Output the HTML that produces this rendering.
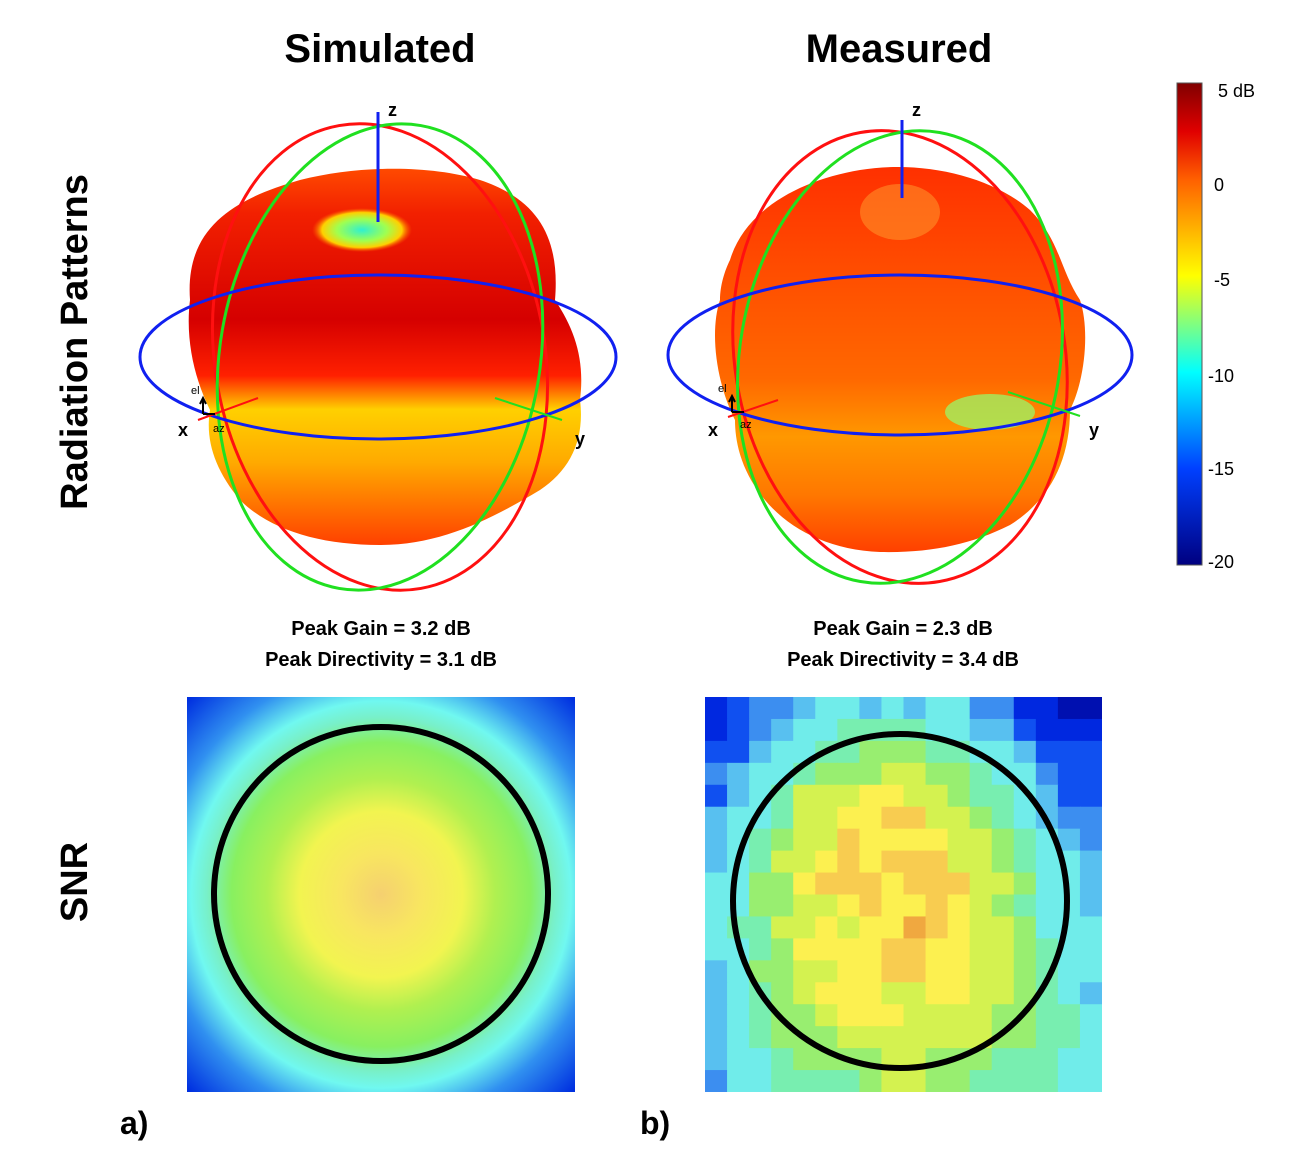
<!DOCTYPE html>
<html><head><meta charset="utf-8"><style>
body{margin:0;background:#fff;width:1308px;height:1168px;overflow:hidden;font-family:"Liberation Sans",sans-serif}
svg{position:absolute;left:0;top:0}
</style></head><body>
<svg width="1308" height="1168" viewBox="0 0 1308 1168">
<defs>
<linearGradient id="cbar" x1="0" y1="0" x2="0" y2="1">
<stop offset="0" stop-color="#800000"/><stop offset="0.1" stop-color="#e00000"/><stop offset="0.2" stop-color="#ff6000"/>
<stop offset="0.4" stop-color="#ffff00"/><stop offset="0.5" stop-color="#80ff80"/><stop offset="0.6" stop-color="#00ffff"/>
<stop offset="0.8" stop-color="#0040ff"/><stop offset="1" stop-color="#000080"/></linearGradient>
<linearGradient id="simblob" x1="0" y1="0" x2="0" y2="1">
<stop offset="0" stop-color="#ff4a00"/><stop offset="0.12" stop-color="#f22000"/><stop offset="0.4" stop-color="#d50000"/>
<stop offset="0.55" stop-color="#ff2000"/><stop offset="0.64" stop-color="#ffd000"/><stop offset="0.78" stop-color="#ffaa00"/>
<stop offset="1" stop-color="#ff4000"/></linearGradient>
<linearGradient id="measblob" x1="0" y1="0" x2="0" y2="1">
<stop offset="0" stop-color="#ff3000"/><stop offset="0.3" stop-color="#ff5000"/><stop offset="0.55" stop-color="#ff6800"/>
<stop offset="0.7" stop-color="#ff9800"/><stop offset="0.85" stop-color="#ff7800"/><stop offset="1" stop-color="#ff4000"/></linearGradient>
<radialGradient id="topsim" cx="0.5" cy="0.5" r="0.5"><stop offset="0" stop-color="#30f0d0"/><stop offset="0.5" stop-color="#a0ff50"/><stop offset="0.8" stop-color="#ffd000"/><stop offset="1" stop-color="#ff6000" stop-opacity="0"/></radialGradient>
<radialGradient id="simsnr" cx="0.5" cy="0.5" r="0.7">
<stop offset="0" stop-color="#f5d070"/><stop offset="0.15" stop-color="#f8e660"/><stop offset="0.3" stop-color="#f2f450"/>
<stop offset="0.42" stop-color="#b0f050"/><stop offset="0.55" stop-color="#88f060"/><stop offset="0.64" stop-color="#78f0c8"/><stop offset="0.7" stop-color="#70f8f0"/>
<stop offset="0.82" stop-color="#3090f0"/><stop offset="1" stop-color="#0030e0"/></radialGradient>
<clipPath id="mclip"><rect x="705" y="697" width="397" height="395"/></clipPath>
</defs>

<text x="380" y="62" text-anchor="middle" font-size="40" font-weight="bold">Simulated</text>
<text x="899" y="62" text-anchor="middle" font-size="40" font-weight="bold">Measured</text>
<text transform="translate(87,342) rotate(-90)" text-anchor="middle" font-size="38" font-weight="bold">Radiation Patterns</text>
<text transform="translate(87,882) rotate(-90)" text-anchor="middle" font-size="38" font-weight="bold">SNR</text>

<g>
<path d="M190,300 C185,230 230,200 300,180 C360,165 430,165 480,180 C540,200 560,240 555,300 C575,330 585,360 580,400 C585,440 570,470 540,490 C490,520 440,545 380,545 C320,545 270,530 240,500 C215,470 205,440 210,410 C195,380 185,340 190,300 Z" fill="url(#simblob)"/>
<ellipse cx="362" cy="230" rx="50" ry="22" fill="url(#topsim)"/>
<ellipse cx="380" cy="357" rx="165" ry="235" transform="rotate(-10 380 357)" fill="none" stroke="#ff1010" stroke-width="3"/>
<ellipse cx="380" cy="357" rx="160" ry="235" transform="rotate(10 380 357)" fill="none" stroke="#20e020" stroke-width="3"/>
<ellipse cx="378" cy="357" rx="238" ry="82" fill="none" stroke="#1020f0" stroke-width="3"/>
<line x1="378" y1="112" x2="378" y2="222" stroke="#1020f0" stroke-width="3"/>
<line x1="198" y1="420" x2="258" y2="398" stroke="#ff1010" stroke-width="2"/>
<line x1="495" y1="398" x2="562" y2="420" stroke="#20e020" stroke-width="2"/>
<text x="388" y="116" font-size="18" font-weight="bold">z</text>
<text x="178" y="436" font-size="18" font-weight="bold">x</text>
<text x="575" y="445" font-size="18" font-weight="bold">y</text>
<text x="191" y="394" font-size="11">el</text><text x="213" y="432" font-size="11">az</text>
<path d="M203,414 V400 M200,404 L203,398 L206,404 M203,414 H215" stroke="#000" stroke-width="2" fill="none"/>
</g>

<g>
<path d="M730,260 C745,210 800,180 860,170 C920,160 990,175 1030,210 C1060,240 1060,270 1080,300 C1090,330 1085,380 1070,410 C1070,460 1050,500 1010,525 C970,545 930,553 880,552 C830,550 790,530 765,500 C740,470 735,440 735,420 C715,380 710,330 720,300 C720,285 725,270 730,260 Z" fill="url(#measblob)"/>
<ellipse cx="900" cy="212" rx="40" ry="28" fill="#ffa030" opacity="0.5"/>
<ellipse cx="990" cy="412" rx="45" ry="18" fill="#a0f060" opacity="0.8"/>
<ellipse cx="900" cy="357" rx="165" ry="228" transform="rotate(-10 900 357)" fill="none" stroke="#ff1010" stroke-width="3"/>
<ellipse cx="900" cy="357" rx="160" ry="228" transform="rotate(10 900 357)" fill="none" stroke="#20e020" stroke-width="3"/>
<ellipse cx="900" cy="355" rx="232" ry="80" fill="none" stroke="#1020f0" stroke-width="3"/>
<line x1="902" y1="120" x2="902" y2="198" stroke="#1020f0" stroke-width="3"/>
<line x1="728" y1="417" x2="778" y2="400" stroke="#ff1010" stroke-width="2"/>
<line x1="1008" y1="392" x2="1080" y2="416" stroke="#20e020" stroke-width="2"/>
<text x="912" y="116" font-size="18" font-weight="bold">z</text>
<text x="708" y="436" font-size="18" font-weight="bold">x</text>
<text x="1089" y="436" font-size="18" font-weight="bold">y</text>
<text x="718" y="392" font-size="11">el</text><text x="740" y="428" font-size="11">az</text>
<path d="M732,412 V398 M729,402 L732,396 L735,402 M732,412 H744" stroke="#000" stroke-width="2" fill="none"/>
</g>

<g>
<rect x="1177" y="83" width="25" height="482" fill="url(#cbar)" stroke="#555" stroke-width="1"/>
<g font-size="18" fill="#000">
<text x="1218" y="97">5 dB</text><text x="1214" y="191">0</text><text x="1214" y="286">-5</text>
<text x="1208" y="382">-10</text><text x="1208" y="475">-15</text><text x="1208" y="568">-20</text></g>
</g>

<g font-size="20" font-weight="bold" text-anchor="middle">
<text x="381" y="635">Peak Gain = 3.2 dB</text>
<text x="381" y="666">Peak Directivity = 3.1 dB</text>
<text x="903" y="635">Peak Gain = 2.3 dB</text>
<text x="903" y="666">Peak Directivity = 3.4 dB</text>
</g>

<g>
<rect x="187" y="697" width="388" height="395" fill="url(#simsnr)"/>
<circle cx="381" cy="894" r="167" fill="none" stroke="#000" stroke-width="6"/>
</g>
<g id="meas" clip-path="url(#mclip)"></g>
<circle cx="900" cy="901" r="167" fill="none" stroke="#000" stroke-width="6"/>

<text x="120" y="1134" font-size="32" font-weight="bold">a)</text>
<text x="640" y="1134" font-size="32" font-weight="bold">b)</text>
</svg>
<script>
const snrRows = [
[1,2,3,3,4,5,5,4,5,4,5,5,3,3,1,1,0,0],
[1,2,3,4,5,5,6,6,6,6,5,5,4,4,2,1,1,1],
[2,2,4,5,5,6,6,7,7,7,6,6,5,5,4,2,2,2],
[3,4,5,5,6,7,7,7,8,8,7,7,6,5,5,3,2,2],
[2,4,5,6,8,8,8,9,9,8,8,7,6,6,5,4,2,2],
[4,5,5,6,8,8,9,9,10,10,8,8,7,6,5,4,3,3],
[4,5,6,7,8,8,10,9,9,9,9,8,8,7,6,5,4,3],
[4,5,6,8,8,9,10,9,10,10,10,8,8,7,6,5,5,4],
[5,5,7,7,9,10,10,10,9,10,10,10,8,8,7,5,5,4],
[5,5,7,7,8,8,9,10,9,9,10,9,8,7,6,5,5,4],
[5,6,6,8,8,9,8,9,9,11,10,9,8,8,7,5,5,5],
[5,5,6,7,9,9,9,9,10,10,9,9,8,8,7,6,5,5],
[4,5,7,7,8,8,9,9,10,10,9,9,8,8,7,6,5,5],
[4,5,6,7,8,9,9,9,8,8,9,9,8,8,7,6,5,4],
[4,5,6,7,7,8,9,9,9,8,8,8,8,7,7,6,6,5],
[4,5,6,7,7,7,8,8,8,8,8,8,8,7,7,6,6,5],
[4,5,5,6,7,7,7,7,8,8,7,7,7,6,6,6,5,5],
[3,5,5,6,6,6,6,7,8,8,7,7,6,6,6,6,5,5]];
const palette = ["#0010b0","#0028e0","#1050f0","#3c8ef0","#58c0f0","#70ecea","#78eeb0","#98ee70","#d4f250","#fcf050","#f8cc50","#f0a840"];
const g = document.getElementById('meas');
const x0=705,y0=697,W=397,H=395,n=snrRows.length;
const cw=W/snrRows[0].length,ch=H/n;
snrRows.forEach((row,r)=>row.forEach((v,c)=>{
  const rect=document.createElementNS('http://www.w3.org/2000/svg','rect');
  rect.setAttribute('x',x0+c*cw);rect.setAttribute('y',y0+r*ch);
  rect.setAttribute('width',cw+0.6);rect.setAttribute('height',ch+0.6);
  rect.setAttribute('fill',palette[Math.max(0,Math.min(11,v))]);
  
  
  g.appendChild(rect);
}));
</script>
</body></html>
